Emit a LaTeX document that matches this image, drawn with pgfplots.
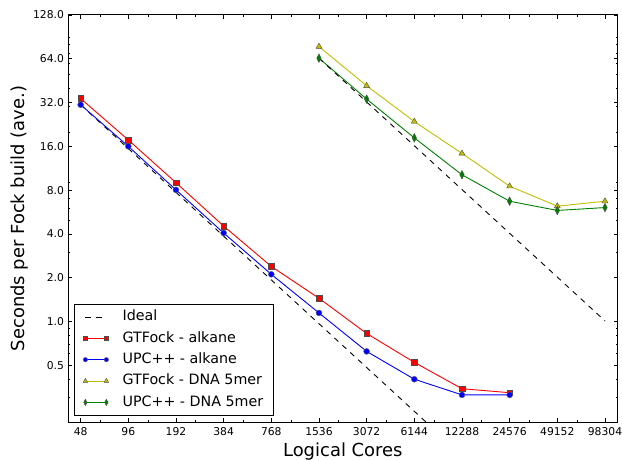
\documentclass[border=0pt]{standalone}
\usepackage{fontspec}
\setmainfont{DejaVu Sans}
\usepackage{pgfplots}
\pgfplotsset{compat=1.18}
\definecolor{mplyellow}{rgb}{0.75,0.75,0}
\definecolor{mplgreen}{rgb}{0,0.5,0}

\begin{document}
\begin{tikzpicture}
\useasboundingbox (-68.3pt,-37.7pt) rectangle (555.5pt,423.3pt);
\begin{axis}[
 at={(0,0)}, anchor=south west,
 scale only axis, width=551pt, height=408.3pt,
 xmode=log, ymode=log,
 xmin=40, xmax=117965, ymin=0.2035, ymax=128,
 xtick={48,96,192,384,768,1536,3072,6144,12288,24576,49152,98304},
 xticklabels={48,96,192,384,768,1536,3072,6144,12288,24576,49152,98304},
 minor xtick={64,128,256,512,1024,2048,4096,8192,16384,32768,65536},
 ytick={0.5,1,2,4,8,16,32,64,128},
 yticklabels={0.5,1.0,2.0,4.0,8.0,16.0,32.0,64.0,128.0},
 minor ytick={0.3,0.4,0.6,0.7,0.8,0.9,3,5,6,7,9,20,30,40,50,60,70,80,90},
 major tick length=4pt, minor tick length=2pt,
 tick style={black, line width=0.6pt},
 axis line style={line width=1pt},
 xticklabel style={font=\fontsize{10.8}{13}\selectfont, anchor=base, inner sep=0pt, yshift=-13.4pt},
 yticklabel style={font=\fontsize{10.8}{13}\selectfont, anchor=east, inner sep=0pt, xshift=-4pt},
 xlabel={Logical Cores},
 ylabel={Seconds per Fock build (ave.)},
 xlabel style={at={(axis description cs:0.5,-0.085)}, anchor=base, font=\fontsize{18}{22}\selectfont},
 ylabel style={at={(axis description cs:-0.0786,0.5)}, anchor=base, font=\fontsize{18}{22}\selectfont},
 legend style={at={(axis description cs:0.0103,0.0162)}, anchor=south west,
   font=\fontsize{14.3}{17}\selectfont, draw=black, line width=0.8pt,
   inner xsep=9pt, inner ysep=4.5pt, row sep=4.9pt, column sep=13pt,
   nodes={inner sep=1pt, text height=11pt, text depth=3.5pt}},
 legend cell align=left,
 legend image code/.code={\draw[/tikz/every mark/.append style={scale=0.75}] plot coordinates {(0pt,0pt) (21pt,0pt)};},
]
\addplot[black, line width=0.9pt, dash pattern=on 5.4pt off 5.4pt] coordinates
 {(48,30.9) (96,15.45) (192,7.725) (384,3.8625) (768,1.931) (1536,0.9656) (3072,0.4828) (6144,0.2414) (12288,0.1207) (24576,0.0604)};
\addlegendentry{Ideal}
\addplot[red, line width=0.9pt, mark=square*, mark size=2.9pt, mark options={fill=red, draw=black!70, line width=0.4pt, solid}] coordinates
 {(48,34.1) (96,17.7) (192,9.0) (384,4.53) (768,2.39) (1536,1.445) (3072,0.827) (6144,0.524) (12288,0.345) (24576,0.324)};
\addlegendentry{GTFock - alkane}
\addplot[blue, line width=0.9pt, mark=*, mark size=3pt, mark options={fill=blue, draw=black!60, line width=0.4pt, solid}] coordinates
 {(48,30.9) (96,16.0) (192,8.03) (384,4.06) (768,2.11) (1536,1.145) (3072,0.623) (6144,0.401) (12288,0.313) (24576,0.313)};
\addlegendentry{UPC++ - alkane}
\addplot[mplyellow, line width=0.9pt, mark=triangle*, mark size=3.5pt, mark options={fill=mplyellow, draw=black!70, line width=0.4pt, solid}] coordinates
 {(1536,77.6) (3072,41.7) (6144,23.7) (12288,14.3) (24576,8.51) (49152,6.21) (98304,6.71)};
\addlegendentry{GTFock - DNA 5mer}
\addplot[mplgreen, line width=0.9pt, mark=diamond*, mark size=4.3pt, mark options={fill=mplgreen, draw=black!70, line width=0.4pt, xscale=0.7, solid}] coordinates
 {(1536,64.6) (3072,33.8) (6144,18.3) (12288,10.2) (24576,6.71) (49152,5.80) (98304,6.07)};
\addlegendentry{UPC++ - DNA 5mer}
\addplot[black, line width=0.9pt, dash pattern=on 5.4pt off 5.4pt, forget plot] coordinates
 {(1536,64.6) (3072,32.3) (6144,16.15) (12288,8.075) (24576,4.0375) (49152,2.019) (98304,1.009)};
\end{axis}
\end{tikzpicture}
\end{document}
